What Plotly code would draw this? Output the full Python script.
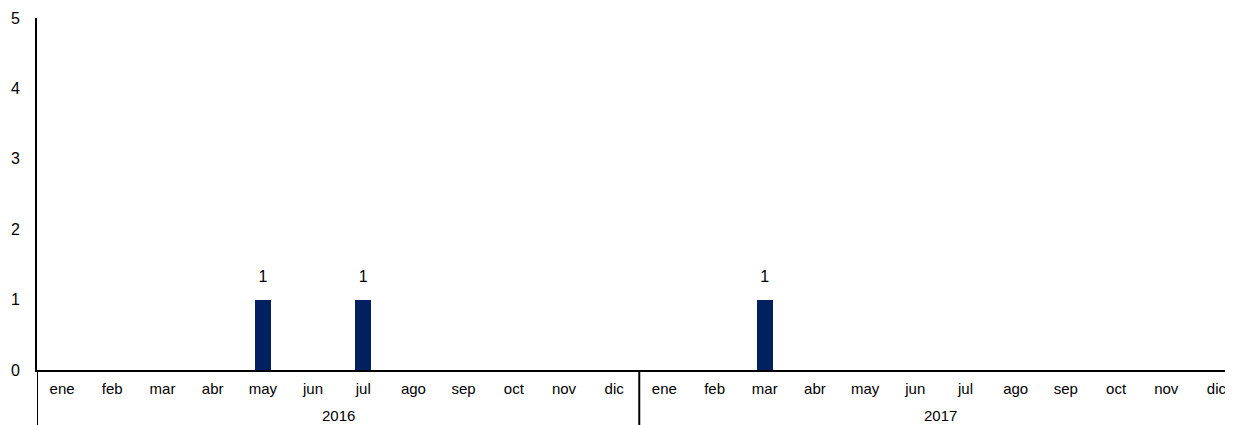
"""Bar chart: monthly counts over 2016-2017, months on the axis and years below."""
import plotly.graph_objects as go

year_names = ["2016", "2017"]
month_names = ["ene", "feb", "mar", "abr", "may", "jun",
               "jul", "ago", "sep", "oct", "nov", "dic"]
counts = [0, 0, 0, 0, 1, 0, 1, 0, 0, 0, 0, 0,
          0, 0, 1, 0, 0, 0, 0, 0, 0, 0, 0, 0]

keys = [f"{y}-{m}" for y in year_names for m in month_names]
months = month_names * len(year_names)
labels = [str(c) if c else "" for c in counts]

fig = go.Figure()
fig.add_trace(go.Bar(
    x=keys, y=counts,
    marker=dict(color="#002060", line=dict(width=0)),
    width=0.32,
    showlegend=False,
    hoverinfo="skip",
))
# data labels, pushed up by an invisible marker
fig.add_trace(go.Scatter(
    x=keys, y=counts,
    mode="markers+text",
    text=labels,
    textposition="top center",
    textfont=dict(size=16, color="#000000"),
    marker=dict(size=20, opacity=0),
    cliponaxis=False,
    showlegend=False,
))

# year group labels and dividers under the month labels
n = len(month_names)
for i, yr in enumerate(year_names):
    fig.add_annotation(
        x=i * n + (n - 1) / 2, y=-0.13,
        xref="x", yref="paper",
        text=yr, showarrow=False,
        font=dict(size=15, color="#000000"),
        yanchor="middle",
    )
    fig.add_shape(
        type="line", xref="x", yref="paper",
        x0=i * n - 0.5, x1=i * n - 0.5, y0=0, y1=-0.16,
        line=dict(color="#000000", width=2),
    )

# page body has an 8px margin, so the figure is sized to fit inside it
fig.update_layout(
    width=1225, height=417,
    margin=dict(l=29, r=0, t=10, b=55),
    plot_bgcolor="white",
    paper_bgcolor="white",
    font=dict(family="Liberation Sans, Arial, sans-serif", color="#000000"),
    bargap=0,
    xaxis=dict(
        type="category",
        range=[-0.5, 23.33],
        tickvals=keys, ticktext=months,
        showline=True, linecolor="#000000", linewidth=2,
        showgrid=False, ticks="",
        ticklabelstandoff=4,
        tickfont=dict(size=15),
    ),
    yaxis=dict(
        range=[0, 5],
        tickvals=[0, 1, 2, 3, 4, 5],
        showline=True, linecolor="#000000", linewidth=2,
        showgrid=False, zeroline=False, ticks="",
        ticklabelstandoff=12,
        tickfont=dict(size=16),
    ),
)
fig.write_html("out.html")
